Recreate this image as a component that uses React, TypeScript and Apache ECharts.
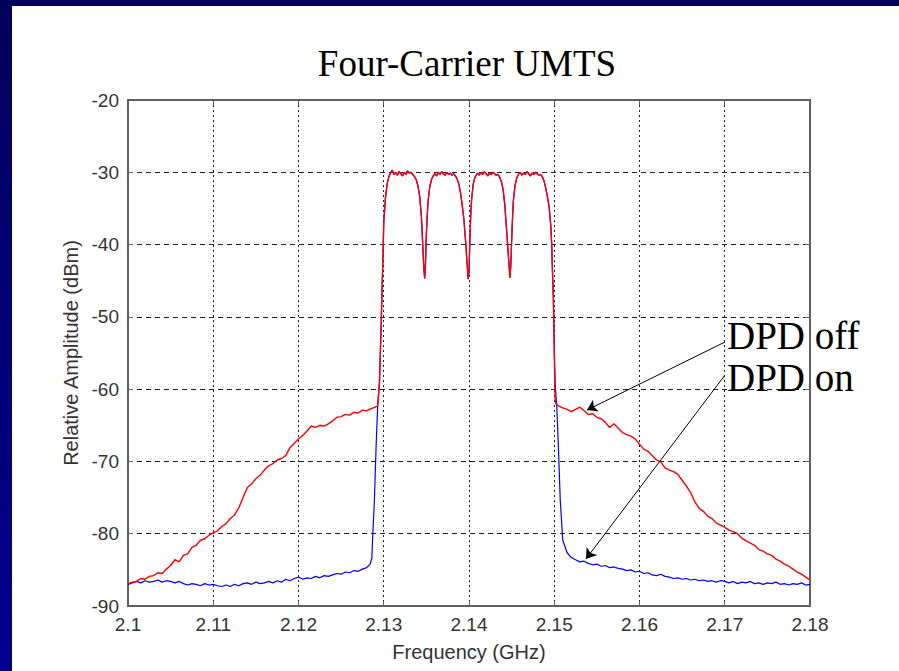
import React, { useEffect, useRef } from "react";
import * as echarts from "echarts";

// Frequency ticks (GHz) and amplitude ticks (dBm)
const xTicks = [2.1, 2.11, 2.12, 2.13, 2.14, 2.15, 2.16, 2.17, 2.18];
const yTicks = [-90, -80, -70, -60, -50, -40, -30, -20];

// DPD off, lower skirt [GHz, dBm]
const redLeft: number[][] = [
  [2.1, -86.9], [2.1005, -86.7], [2.101, -86.6], [2.1015, -86.2], [2.102, -86.3], [2.1025, -85.9],
  [2.103, -85.8], [2.1035, -85.4], [2.104, -85.5], [2.1045, -84.9], [2.105, -84.4], [2.1055, -83.6],
  [2.106, -83.9], [2.1065, -83.0], [2.107, -82.8], [2.1075, -81.9], [2.108, -81.6], [2.1085, -80.9],
  [2.109, -80.7], [2.1095, -80.2], [2.11, -79.9], [2.1105, -79.6], [2.111, -79.0], [2.1115, -78.6],
  [2.112, -77.9], [2.1125, -77.4], [2.113, -76.4], [2.1135, -75.0], [2.114, -73.6], [2.1145, -73.1],
  [2.115, -72.4], [2.1155, -71.9], [2.116, -71.2], [2.1165, -70.6], [2.117, -70.3], [2.1175, -69.8],
  [2.118, -69.6], [2.1185, -69.2], [2.119, -68.1], [2.1195, -67.5], [2.12, -66.9], [2.1205, -66.4],
  [2.121, -65.8], [2.1215, -65.1], [2.122, -65.3], [2.1225, -65.0], [2.123, -65.1], [2.1235, -64.8],
  [2.124, -64.4], [2.1245, -63.9], [2.125, -63.8], [2.1255, -63.5], [2.126, -63.6], [2.1265, -63.2],
  [2.127, -63.3], [2.1275, -62.9], [2.128, -63.0], [2.1285, -62.7], [2.129, -62.5], [2.1293, -62.3],
];

// DPD on, lower skirt [GHz, dBm]
const blueLeft: number[][] = [
  [2.1, -87.0], [2.1005, -86.8], [2.101, -86.6], [2.1015, -86.8], [2.102, -86.5], [2.1025, -86.7],
  [2.103, -86.6], [2.1035, -86.4], [2.104, -86.7], [2.1045, -86.5], [2.105, -86.6], [2.1055, -86.8],
  [2.106, -86.6], [2.1065, -86.9], [2.107, -87.1], [2.1075, -86.9], [2.108, -87.0], [2.1085, -87.2],
  [2.109, -86.9], [2.1095, -87.1], [2.11, -87.0], [2.1105, -87.2], [2.111, -87.3], [2.1115, -87.1],
  [2.112, -87.3], [2.1125, -87.0], [2.113, -87.2], [2.1135, -86.9], [2.114, -86.8], [2.1145, -87.0],
  [2.115, -86.7], [2.1155, -86.9], [2.116, -86.8], [2.1165, -86.6], [2.117, -86.8], [2.1175, -86.5],
  [2.118, -86.7], [2.1185, -86.3], [2.119, -86.5], [2.1195, -86.2], [2.12, -86.0], [2.1205, -86.3],
  [2.121, -86.1], [2.1215, -86.2], [2.122, -85.9], [2.1225, -86.1], [2.123, -85.8], [2.1235, -85.9],
  [2.124, -85.7], [2.1245, -85.5], [2.125, -85.6], [2.1255, -85.3], [2.126, -85.4], [2.1265, -85.1],
  [2.127, -85.2], [2.1275, -84.9], [2.128, -84.7], [2.1284, -84.2], [2.1286, -83.4], [2.1287, -80.5],
  [2.1289, -75.5], [2.1291, -68.0], [2.1293, -62.0],
];

// Four carriers, common to both traces [GHz, dBm]
const carriers: number[][] = [
  [2.1295, -59], [2.1297, -51], [2.1299, -42], [2.13, -37], [2.1302, -33.5], [2.1304, -31.6],
  [2.1306, -30.6], [2.1308, -30.1], [2.131, -29.7], [2.1312, -30.3], [2.1314, -30.0], [2.1316, -30.4],
  [2.1318, -29.9], [2.132, -30.2], [2.1322, -30.5], [2.1324, -30.0], [2.1326, -30.3], [2.1328, -29.8],
  [2.133, -30.1], [2.1332, -30.0], [2.1334, -30.3], [2.1336, -30.6], [2.1338, -31.0], [2.134, -31.8],
  [2.1342, -33.2], [2.1344, -35.8], [2.1345, -38], [2.1346, -40.8], [2.1347, -43.2], [2.1348, -44.7],
  [2.1349, -42.5], [2.135, -38.5], [2.1351, -36], [2.1352, -34], [2.1354, -32], [2.1356, -31],
  [2.1358, -30.5], [2.136, -30.2], [2.1362, -30.5], [2.1364, -30.0], [2.1366, -30.3], [2.1368, -29.9],
  [2.137, -30.2], [2.1372, -30.4], [2.1374, -30.0], [2.1376, -30.3], [2.1378, -30.1], [2.138, -30.4],
  [2.1382, -30.2], [2.1384, -30.5], [2.1386, -30.9], [2.1388, -31.6], [2.139, -32.8], [2.1392, -34.5],
  [2.1394, -36.5], [2.1396, -39.5], [2.1398, -43], [2.1399, -44.8], [2.14, -43.8], [2.1401, -39.5],
  [2.1402, -36], [2.1403, -33.8], [2.1405, -31.6], [2.1407, -30.7], [2.141, -30.1], [2.1412, -30.4],
  [2.1414, -30.0], [2.1416, -30.3], [2.1418, -29.9], [2.142, -30.2], [2.1422, -30.5], [2.1424, -30.1],
  [2.1426, -30.3], [2.1428, -30.0], [2.143, -30.2], [2.1432, -30.4], [2.1434, -30.3], [2.1436, -30.7],
  [2.1438, -31.3], [2.144, -32.4], [2.1442, -34.5], [2.1444, -37.8], [2.1446, -41.2], [2.1448, -44.6],
  [2.1449, -43], [2.145, -39.5], [2.1451, -36.5], [2.1452, -34], [2.1454, -31.8], [2.1456, -30.8],
  [2.1458, -30.3], [2.146, -30.0], [2.1462, -30.4], [2.1464, -30.1], [2.1466, -30.3], [2.1468, -29.9],
  [2.147, -30.2], [2.1472, -30.5], [2.1474, -30.1], [2.1476, -30.3], [2.1478, -30.0], [2.148, -30.2],
  [2.1482, -30.4], [2.1484, -30.3], [2.1486, -30.6], [2.1488, -31.2], [2.149, -32.2], [2.1492, -33.4],
  [2.1494, -34.8], [2.1496, -37.5], [2.1497, -40], [2.1498, -44], [2.1499, -47.5],
];

// DPD off, upper skirt [GHz, dBm]
const redRight: number[][] = [
  [2.15, -55], [2.1501, -61.5], [2.1502, -62.0], [2.1505, -62.3], [2.151, -62.6], [2.1515, -62.8],
  [2.152, -63.1], [2.1525, -62.8], [2.153, -62.5], [2.1535, -63.0], [2.154, -63.5], [2.1545, -63.4],
  [2.155, -63.9], [2.1555, -64.1], [2.156, -64.6], [2.1565, -65.3], [2.157, -64.8], [2.1575, -65.4],
  [2.158, -66.0], [2.1585, -66.3], [2.159, -66.5], [2.1595, -66.9], [2.16, -67.6], [2.1605, -68.3],
  [2.161, -68.6], [2.1615, -69.2], [2.162, -69.8], [2.1625, -70.1], [2.163, -70.9], [2.1635, -71.2],
  [2.164, -71.4], [2.1645, -71.8], [2.165, -72.6], [2.1655, -73.4], [2.166, -74.3], [2.1665, -75.6],
  [2.167, -76.5], [2.1675, -76.9], [2.168, -77.6], [2.1685, -77.9], [2.169, -78.5], [2.1695, -78.8],
  [2.17, -79.1], [2.1705, -79.5], [2.171, -79.7], [2.1715, -80.0], [2.172, -80.6], [2.1725, -81.0],
  [2.173, -81.3], [2.1735, -81.6], [2.174, -82.2], [2.1745, -82.4], [2.175, -82.8], [2.1755, -83.0],
  [2.176, -83.5], [2.1765, -83.8], [2.177, -84.2], [2.1775, -84.5], [2.178, -84.9], [2.1785, -85.3],
  [2.179, -85.6], [2.1795, -86.0], [2.18, -86.4],
];

// DPD on, upper skirt [GHz, dBm]
const blueRight: number[][] = [
  [2.15, -54.2], [2.1501, -59.2], [2.1503, -62.5], [2.1505, -68.4], [2.1507, -75.3], [2.151, -80.9],
  [2.1515, -82.6], [2.152, -83.3], [2.1525, -83.6], [2.153, -83.9], [2.1535, -83.8], [2.154, -84.1],
  [2.1545, -84.3], [2.155, -84.2], [2.1555, -84.5], [2.156, -84.4], [2.1565, -84.7], [2.157, -84.6],
  [2.1575, -84.8], [2.158, -84.9], [2.1585, -85.1], [2.159, -85.0], [2.1595, -85.3], [2.16, -85.2],
  [2.1605, -85.5], [2.161, -85.4], [2.1615, -85.7], [2.162, -85.8], [2.1625, -85.6], [2.163, -85.9],
  [2.1635, -86.0], [2.164, -86.2], [2.1645, -86.1], [2.165, -86.3], [2.1655, -86.2], [2.166, -86.4],
  [2.1665, -86.3], [2.167, -86.5], [2.1675, -86.4], [2.168, -86.6], [2.1685, -86.5], [2.169, -86.7],
  [2.1695, -86.5], [2.17, -86.6], [2.1705, -86.8], [2.171, -86.6], [2.1715, -86.9], [2.172, -86.7],
  [2.1725, -86.8], [2.173, -86.6], [2.1735, -86.9], [2.174, -86.8], [2.1745, -87.0], [2.175, -86.8],
  [2.1755, -86.9], [2.176, -86.7], [2.1765, -87.0], [2.177, -86.9], [2.1775, -87.1], [2.178, -86.9],
  [2.1785, -87.0], [2.179, -86.8], [2.1795, -87.1], [2.18, -87.0],
];

// Annotation arrows (tail, head) in data coordinates
const arrowOff = [[2.17003, -53.48], [2.15384, -62.89]];
const arrowOn = [[2.17003, -58.04], [2.15372, -83.5]];

const SANS = "'Liberation Sans', Arial, sans-serif";
const SERIF = "'Liberation Serif', 'Times New Roman', serif";
const AXIS = "#606060";

export default function App() {
  const ref = useRef<HTMLDivElement>(null);
  useEffect(() => {
    const chart = echarts.init(ref.current!, null, { renderer: "svg" });
    const xMin = xTicks[0], xMax = xTicks[xTicks.length - 1];
    const yMin = yTicks[0], yMax = yTicks[yTicks.length - 1];
    const fmt = (v: number) => String(Math.round(v * 1000) / 1000);
    const labelStyle = { color: "#333", fontFamily: SANS, fontSize: 19 };
    chart.setOption({
      animation: false,
      backgroundColor: "#ffffff",
      grid: { left: 128, top: 100, width: 682, height: 506, show: true, borderColor: AXIS, borderWidth: 2, backgroundColor: "transparent" },
      xAxis: [
        {
          type: "value", min: xMin, max: xMax, interval: 0.01,
          axisLine: { show: true, onZero: false, lineStyle: { color: AXIS, width: 2 } },
          axisTick: { show: true, inside: true, length: 5, lineStyle: { color: AXIS } },
          axisLabel: { ...labelStyle, margin: 9, formatter: fmt },
          splitLine: { show: true, lineStyle: { color: "#222", width: 1, type: [2, 3] } },
          name: "Frequency (GHz)", nameLocation: "middle", nameGap: 36,
          nameTextStyle: { color: "#333", fontFamily: SANS, fontSize: 20 },
        },
        {
          type: "value", position: "top", min: xMin, max: xMax, interval: 0.01,
          axisLine: { show: true, onZero: false, lineStyle: { color: AXIS, width: 2 } },
          axisTick: { show: true, inside: true, length: 5, lineStyle: { color: AXIS } },
          axisLabel: { show: false }, splitLine: { show: false },
        },
      ],
      yAxis: [
        {
          type: "value", min: yMin, max: yMax, interval: 10,
          axisLine: { show: true, onZero: false, lineStyle: { color: AXIS, width: 2 } },
          axisTick: { show: true, inside: true, length: 5, lineStyle: { color: AXIS } },
          axisLabel: { ...labelStyle, margin: 9 },
          splitLine: { show: true, lineStyle: { color: "#222", width: 1, type: [5, 4] } },
          name: "Relative Amplitude (dBm)", nameLocation: "middle", nameGap: 46,
          nameTextStyle: { color: "#333", fontFamily: SANS, fontSize: 20 },
        },
        {
          type: "value", position: "right", min: yMin, max: yMax, interval: 10,
          axisLine: { show: true, onZero: false, lineStyle: { color: AXIS, width: 2 } },
          axisTick: { show: true, inside: true, length: 5, lineStyle: { color: AXIS } },
          axisLabel: { show: false }, splitLine: { show: false },
        },
      ],
      series: [
        {
          name: "DPD on", type: "line", showSymbol: false, symbol: "none", clip: true,
          data: [...blueLeft, ...carriers, ...blueRight],
          lineStyle: { color: "#0000ff", width: 1.2 }, z: 2,
        },
        {
          name: "DPD off", type: "line", showSymbol: false, symbol: "none", clip: true,
          data: [...redLeft, ...carriers, ...redRight],
          lineStyle: { color: "#ff0000", width: 1.4 }, z: 3,
          markLine: {
            silent: true, symbol: ["none", "arrow"], symbolSize: 10, animation: false,
            label: { show: false },
            lineStyle: { color: "#000", width: 1, type: "solid" },
            emphasis: { disabled: true },
            data: [
              [{ coord: arrowOff[0] }, { coord: arrowOff[1] }],
              [{ coord: arrowOn[0] }, { coord: arrowOn[1] }],
            ],
          },
        },
      ],
      graphic: [
        {
          type: "rect", shape: { x: 0, y: 0, width: 12, height: 671 },
          style: { fill: new echarts.graphic.LinearGradient(0, 0, 0, 1, [{ offset: 0, color: "#00005a" }, { offset: 1, color: "#00008e" }]) },
        },
        { type: "rect", shape: { x: 0, y: 0, width: 899, height: 6 }, style: { fill: "#00005a" } },
        {
          type: "text", x: 467, y: 63,
          style: { text: "Four-Carrier UMTS", fontSize: 37, fontFamily: SERIF, fill: "#000", textAlign: "center", textVerticalAlign: "middle" },
        },
        {
          type: "text", x: 727, y: 335, z: 10,
          style: { text: "DPD off", fontSize: 39, fontFamily: SERIF, fill: "#000", textAlign: "left", textVerticalAlign: "middle" },
        },
        {
          type: "text", x: 727, y: 377, z: 10,
          style: { text: "DPD on", fontSize: 39, fontFamily: SERIF, fill: "#000", textAlign: "left", textVerticalAlign: "middle" },
        },
      ],
    });
    return () => chart.dispose();
  }, []);
  return <div ref={ref} style={{ position: "absolute", left: 0, top: 0, width: 899, height: 671 }} />;
}
